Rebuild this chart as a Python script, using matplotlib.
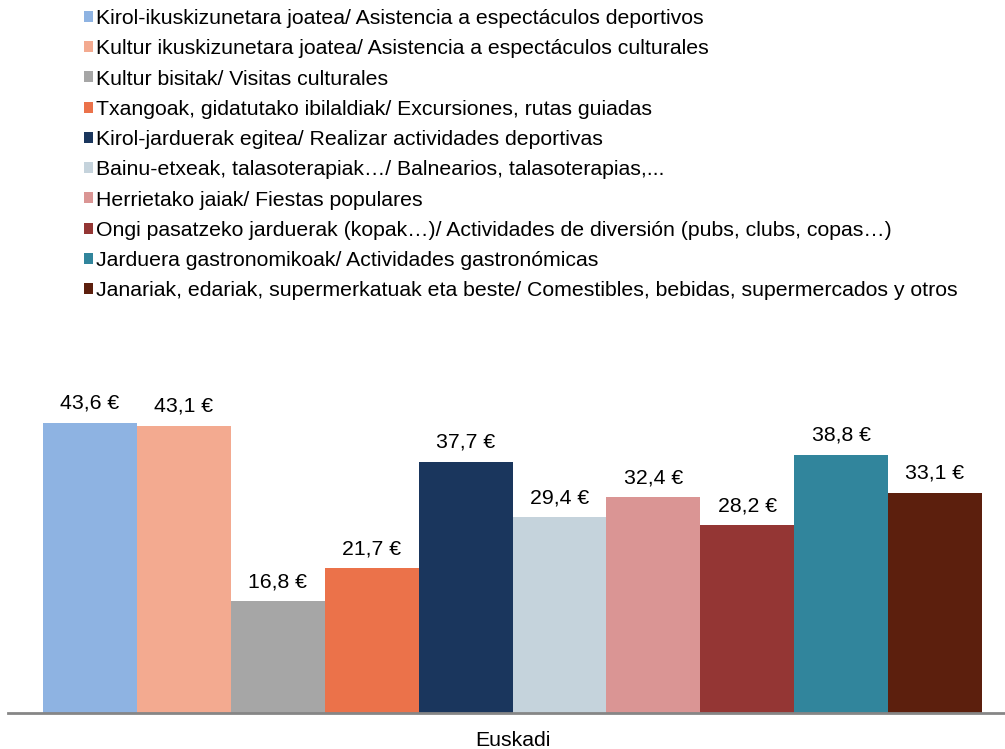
import matplotlib.pyplot as plt
from matplotlib.patches import Patch

plt.rcParams['font.family'] = ['Liberation Sans', 'DejaVu Sans']

categories = ['Euskadi']
series_labels = [
    'Kirol-ikuskizunetara joatea/ Asistencia a espectáculos deportivos',
    'Kultur ikuskizunetara joatea/ Asistencia a espectáculos culturales',
    'Kultur bisitak/ Visitas culturales',
    'Txangoak, gidatutako ibilaldiak/ Excursiones, rutas guiadas',
    'Kirol-jarduerak egitea/ Realizar actividades deportivas',
    'Bainu-etxeak, talasoterapiak…/ Balnearios, talasoterapias,...',
    'Herrietako jaiak/ Fiestas populares',
    'Ongi pasatzeko jarduerak (kopak…)/ Actividades de diversión (pubs, clubs, copas…)',
    'Jarduera gastronomikoak/ Actividades gastronómicas',
    'Janariak, edariak, supermerkatuak eta beste/ Comestibles, bebidas, supermercados y otros',
]
values = [43.6, 43.1, 16.8, 21.7, 37.7, 29.4, 32.4, 28.2, 38.8, 33.1]
colors = ['#8EB3E2', '#F3AA90', '#A6A6A6', '#EB724A', '#1A365D',
          '#C5D3DC', '#DA9594', '#943634', '#31859C', '#5C1F0D']

fig = plt.figure(figsize=(10.05, 7.49), dpi=100)
W, H = 1005, 749
ax = fig.add_axes([8 / W, (H - 713) / H, 1009 / W, 333 / H])

fs = 15.3
n = len(values)
group = 939 / 1009
bw = group / n
for i, (v, c) in enumerate(zip(values, colors)):
    x = -group / 2 + (i + 0.5) * bw
    ax.bar(x, v, width=bw, color=c, linewidth=0)
    ax.text(x, v + 1.5, f'{v:.1f} €'.replace('.', ','), ha='center', va='bottom',
            fontsize=fs, color='#000000')

ax.set_xlim(-0.5, 0.5)
ax.set_ylim(0, 50)
ax.set_yticks([])
ax.set_xticks([0])
ax.set_xticklabels(categories, fontsize=fs)
ax.tick_params(axis='x', length=0, pad=13)
for s in ['top', 'right', 'left']:
    ax.spines[s].set_visible(False)
ax.spines['bottom'].set_color('#868686')
ax.spines['bottom'].set_linewidth(2)

handles = [Patch(facecolor=c, edgecolor='none') for c in colors]
fig.legend(handles, series_labels, loc='upper left', bbox_to_anchor=(84 / W, 1 - 9 / H),
           frameon=False, fontsize=fs, handlelength=0.42, handleheight=0.42,
           handletextpad=0.15, labelspacing=0.53, borderaxespad=0, borderpad=0)

fig.savefig('out.png', dpi=100)
